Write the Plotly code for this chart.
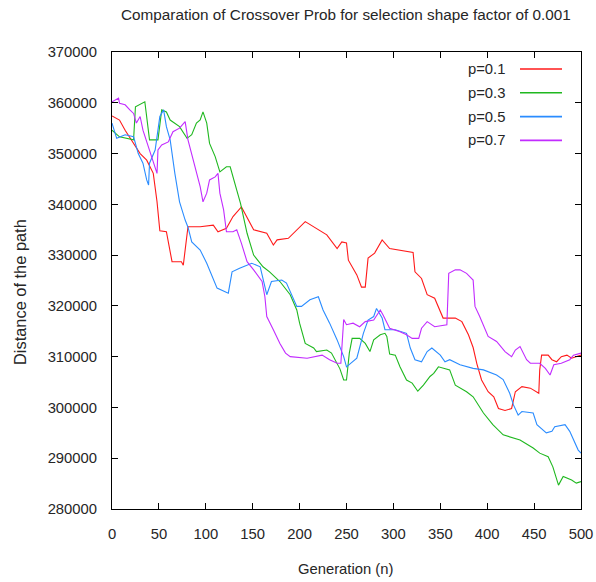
import plotly.graph_objects as go

# Generation / path-distance samples for each crossover probability
gen_p01 = [0, 8, 14, 23, 30, 37, 44, 48, 51, 58, 64, 74, 76, 81, 94, 108, 113, 122, 129, 138,
           151, 165, 172, 176, 188, 206, 215, 229, 240, 245, 250, 252, 261, 266, 270, 273, 280,
           288, 296, 305, 314, 321, 323, 330, 336, 344, 353, 366, 373, 380, 385, 389, 394, 401,
           407, 412, 419, 426, 430, 437, 446, 455, 456, 458, 465, 469, 474, 479, 485, 490, 500]
dist_p01 = [357400, 356600, 354600, 352000, 350000, 348700, 346100, 340500, 334800, 334600,
            328700, 328700, 328000, 335600, 335600, 335900, 334600, 335300, 337600, 339500,
            335000, 334300, 332000, 333000, 333300, 336600, 335600, 334000, 331300, 332600,
            332400, 329000, 326100, 323700, 323700, 329400, 330400, 333000, 331300, 331000,
            330700, 330500, 326700, 325400, 322200, 321500, 317600, 317600, 316900, 314300,
            311800, 308600, 305400, 303100, 302100, 299800, 299400, 299800, 303100, 304100,
            303800, 302800, 307400, 310300, 310300, 309400, 309000, 310000, 310300, 309700, 310300]

gen_p03 = [0, 8, 23, 25, 35, 37, 40, 49, 53, 58, 62, 72, 80, 85, 90, 94, 97, 101, 104, 110,
           115, 122, 126, 133, 137, 144, 151, 161, 168, 179, 190, 197, 200, 206, 215, 218, 229,
           234, 243, 247, 250, 253, 256, 264, 270, 275, 279, 286, 291, 293, 296, 302, 307, 314,
           320, 326, 332, 339, 343, 348, 360, 366, 378, 385, 396, 406, 417, 435, 449, 456, 465,
           470, 476, 481, 490, 495, 500]
dist_p03 = [354600, 353300, 352700, 359200, 360200, 357300, 352700, 352700, 358600, 358200,
            356600, 355300, 353000, 353700, 356000, 356600, 358200, 356000, 352000, 349400,
            346400, 347400, 347400, 342800, 340200, 334300, 330000, 327700, 326700, 324800,
            322200, 319200, 316600, 312600, 311700, 311000, 311300, 310700, 307600, 305400,
            305400, 310700, 313600, 313600, 312600, 311000, 313300, 314300, 314600, 314000,
            310500, 310300, 308000, 305400, 304800, 303200, 304400, 306100, 306700, 308000,
            307400, 304400, 303100, 302100, 298900, 296600, 294600, 293600, 292000, 291000,
            290300, 288300, 284700, 286400, 285700, 285100, 285400]

gen_p05 = [0, 5, 14, 23, 28, 33, 37, 39, 40, 46, 51, 55, 58, 62, 67, 72, 78, 81, 85, 94, 101,
           108, 112, 124, 128, 136, 149, 158, 165, 170, 181, 186, 197, 202, 211, 220, 225, 232,
           240, 247, 250, 261, 268, 273, 279, 282, 288, 291, 302, 314, 318, 323, 330, 336, 341,
           350, 355, 360, 371, 385, 396, 410, 417, 424, 428, 433, 437, 449, 453, 463, 469, 472,
           483, 488, 492, 497, 500]
dist_p05 = [356000, 353000, 353700, 353300, 350000, 348100, 344800, 343800, 348100, 350700,
            357300, 358600, 355300, 352700, 346100, 340500, 336900, 335500, 332600, 331000,
            328400, 325100, 323500, 322500, 326700, 327400, 328400, 327700, 322200, 324800,
            325100, 324500, 319900, 319900, 321200, 321800, 319200, 316600, 313300, 310000,
            308000, 309700, 314600, 317200, 317900, 319500, 317600, 315300, 315300, 314600,
            311700, 309400, 309000, 311000, 311700, 310300, 309000, 309400, 308400, 307700,
            307400, 306400, 305500, 302800, 300500, 298500, 299200, 298900, 296600, 295000,
            295300, 296200, 296600, 295300, 293600, 291600, 291000]

gen_p07 = [0, 7, 8, 14, 19, 23, 26, 30, 33, 40, 44, 48, 49, 53, 60, 65, 72, 78, 81, 87, 94,
           97, 101, 104, 110, 113, 115, 119, 122, 129, 133, 138, 144, 151, 160, 163, 165, 172,
           179, 185, 190, 208, 218, 224, 232, 240, 244, 247, 250, 257, 264, 270, 279, 286, 289,
           296, 307, 314, 320, 327, 330, 336, 344, 355, 357, 359, 366, 371, 378, 385, 387, 392,
           401, 410, 419, 426, 430, 435, 442, 446, 456, 462, 467, 471, 479, 488, 492, 500]
dist_p07 = [360200, 360900, 359900, 359600, 358600, 357900, 356000, 357300, 354600, 350700,
            348100, 346100, 350700, 351700, 352300, 354300, 355000, 356300, 352700, 348700,
            343500, 340500, 342200, 344800, 345400, 346100, 342200, 338900, 334600, 334600,
            335000, 332300, 328700, 327100, 324800, 321800, 317900, 315300, 312600, 310700,
            310000, 309700, 310000, 310300, 309400, 308700, 308700, 317300, 316300, 316600,
            315900, 316900, 317200, 319200, 318200, 315600, 314900, 314300, 313600, 313600,
            315600, 316900, 315900, 316300, 316300, 326400, 327100, 327100, 326400, 325100,
            319900, 317900, 314000, 313000, 311000, 310000, 311300, 312000, 309400, 308700,
            308700, 307700, 306400, 308400, 308700, 309400, 310300, 310700]

series_names = ["p=0.1", "p=0.3", "p=0.5", "p=0.7"]
series_colors = ["#ff1a1a", "#1fb81f", "#2a8cff", "#c22cff"]
gens = [gen_p01, gen_p03, gen_p05, gen_p07]
dists = [dist_p01, dist_p03, dist_p05, dist_p07]

x_ticks = list(range(0, 501, 50))
y_ticks = list(range(280000, 370001, 10000))

FONT = "Liberation Sans, Arial, sans-serif"
TXT = "#262626"
FS = 14.8

fig = go.Figure()
for name, color, g, d in zip(series_names, series_colors, gens, dists):
    fig.add_trace(go.Scatter(x=g, y=d, mode="lines", name=name,
                             line=dict(color=color, width=1.1), showlegend=False))

# plot-area geometry in pixels (for placing the key and labels)
L, R, T, B = 112, 581, 52, 509
W, H = R - L, B - T


def px(xp):
    return (xp - L) / W


def py(yp):
    return (B - yp) / H


# key: label text followed by a line sample, gnuplot-style
for i, (name, color) in enumerate(zip(series_names, series_colors)):
    yrow = 69 + i * 23.8
    fig.add_annotation(x=px(507), y=py(yrow), xref="paper", yref="paper",
                       text=name, showarrow=False, xanchor="right", yanchor="middle",
                       font=dict(family=FONT, size=FS, color=TXT))
    fig.add_shape(type="line", xref="paper", yref="paper",
                  x0=px(520), x1=px(562), y0=py(yrow), y1=py(yrow),
                  line=dict(color=color, width=1.6))

fig.add_annotation(x=px(346), y=py(15), xref="paper", yref="paper",
                   text="Comparation of Crossover Prob for selection shape factor of 0.001",
                   showarrow=False, xanchor="center", yanchor="middle",
                   font=dict(family=FONT, size=15.3, color=TXT))
fig.add_annotation(x=px(345), y=py(569), xref="paper", yref="paper",
                   text="Generation (n)", showarrow=False, xanchor="center", yanchor="middle",
                   font=dict(family=FONT, size=FS, color=TXT))
fig.add_annotation(x=px(20), y=py(292), xref="paper", yref="paper",
                   text="Distance of the path", showarrow=False, textangle=-90,
                   xanchor="center", yanchor="middle",
                   font=dict(family=FONT, size=16.4, color=TXT))

axis_common = dict(showline=True, linecolor="black", linewidth=1, mirror="allticks",
                   ticks="inside", ticklen=6, tickcolor="black", tickwidth=1,
                   showgrid=False, zeroline=False,
                   tickfont=dict(family=FONT, size=FS, color=TXT))

fig.update_xaxes(range=[0, 500], tickvals=x_ticks, ticklabelstandoff=11, **axis_common)
fig.update_yaxes(range=[280000, 370000], tickvals=y_ticks, tickformat="d",
                 ticklabelstandoff=11, **axis_common)

fig.update_layout(width=596, height=582,
                  margin=dict(l=L, r=596 - R, t=T, b=582 - B, autoexpand=False),
                  paper_bgcolor="white", plot_bgcolor="white")

fig.write_html("out.html")
